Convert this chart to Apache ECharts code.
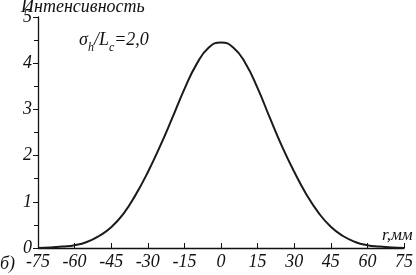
<!DOCTYPE html>
<html><head><meta charset="utf-8">
<script src="https://cdn.jsdelivr.net/npm/echarts@6/dist/echarts.min.js"></script>
<style>html,body{margin:0;padding:0;background:#fff}#c{width:416px;height:275px}</style>
</head><body><div id="c"></div>
<script>
const rValues = [-75,-70,-65,-60,-55,-50,-45,-40,-35,-30,-25,-20,-15,-10,-5,0,5,10,15,20,25,30,35,40,45,50,55,60,65,70,75];
const intensity = [0.0,0.01,0.03,0.06,0.13,0.26,0.45,0.74,1.15,1.64,2.2,2.81,3.44,3.98,4.34,4.45,4.34,4.0,3.46,2.82,2.2,1.65,1.16,0.76,0.46,0.26,0.13,0.06,0.03,0.01,0.0];
const xTicks = [-75,-60,-45,-30,-15,0,15,30,45,60,75];
const yTicks = [0,1,2,3,4,5];

const font = 'Liberation Serif';
const chart = echarts.init(document.getElementById('c'));
chart.setOption({
  animation: false,
  grid: {left: 38, right: 2, top: 17, bottom: 27},
  xAxis: {
    type: 'value', min: -75, max: 75, interval: 15,
    axisLine: {lineStyle: {color: '#111', width: 1.3}},
    axisTick: {inside: true, length: 5, lineStyle: {color: '#111'}},
    axisLabel: {color: '#111', fontFamily: font, fontStyle: 'italic', fontSize: 18, margin: 5,
      formatter: v => xTicks.includes(v) ? String(v) : ''},
    splitLine: {show: false}
  },
  yAxis: {
    type: 'value', min: 0, max: 5, interval: 1,
    axisLine: {show: true, onZero: false, lineStyle: {color: '#111', width: 1.3}},
    axisTick: {show: true, length: 5, lineStyle: {color: '#111'}},
    minorTick: {show: true, splitNumber: 2, length: 4, lineStyle: {color: '#111'}},
    axisLabel: {color: '#111', fontFamily: font, fontStyle: 'italic', fontSize: 18, margin: 6,
      formatter: v => yTicks.includes(v) ? String(v) : ''},
    splitLine: {show: false}
  },
  series: [{
    type: 'line', smooth: true, showSymbol: false,
    data: rValues.map((r, i) => [r, intensity[i]]),
    lineStyle: {color: '#1a1a1a', width: 2}
  }],
  graphic: [
    {type: 'text', left: 21, top: -2, style: {text: 'Интенсивность', font: 'italic 18px "Liberation Serif"', fill: '#111'}},
    {type: 'text', left: 79, top: 31, style: {
      text: '{n|σ}{s|h}{n|/L}{s|c}{n|=2,0}',
      rich: {
        n: {fontFamily: font, fontStyle: 'italic', fontSize: 18, fill: '#111', lineHeight: 22, verticalAlign: 'bottom'},
        s: {fontFamily: font, fontStyle: 'italic', fontSize: 12, fill: '#111', lineHeight: 22, verticalAlign: 'bottom', padding: [0, 0, -5, 0]}
      }
    }},
    {type: 'text', left: 382, top: 227, style: {text: 'r,мм', font: 'italic 17px "Liberation Serif"', fill: '#111'}},
    {type: 'text', left: 0, top: 255, style: {text: 'б)', font: 'italic 18px "Liberation Serif"', fill: '#111'}}
  ]
});
</script></body></html>
